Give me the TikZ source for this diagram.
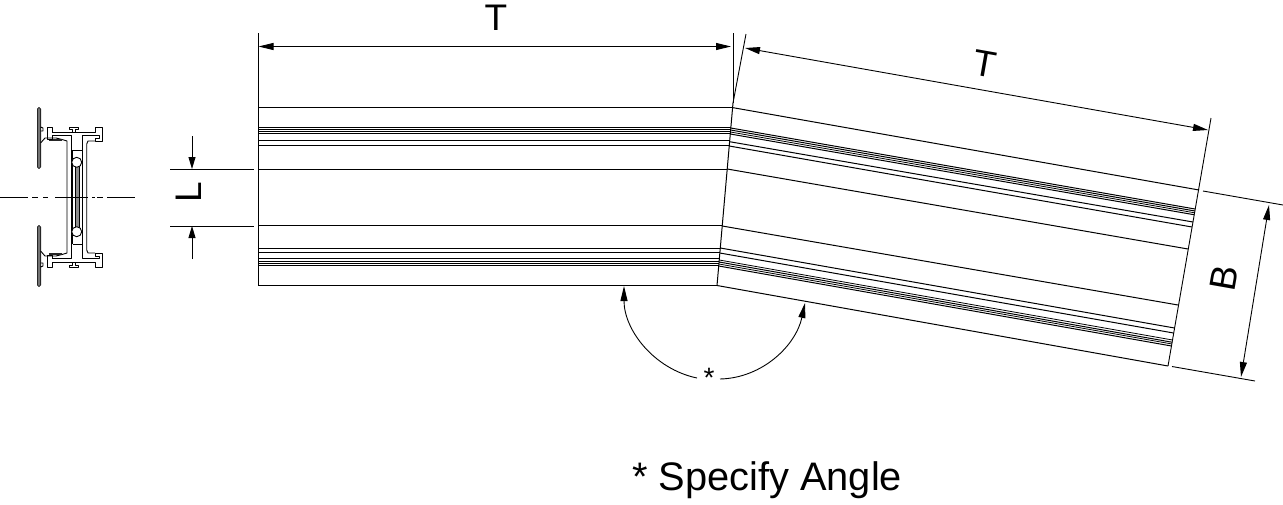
\documentclass[tikz,border=0pt]{standalone}
\usepackage{fontspec}
\setmainfont{Liberation Sans}
\usetikzlibrary{arrows.meta}
\tikzset{
  edge/.style={draw=black,line width=1pt},
  fine/.style={draw=black,line width=0.8pt},
  dim/.style={draw=black,line width=0.9pt},
  tip/.style={-{Triangle[length=15pt,width=7pt]}},
  tips/.style={{Triangle[length=15pt,width=7pt]}-{Triangle[length=15pt,width=7pt]}},
  label/.style={inner sep=0pt,font=\fontsize{37}{37}\selectfont},
  note/.style={inner sep=0pt,font=\fontsize{39.8}{40}\selectfont},
  plate/.style={draw=black!85,fill=black!55,line width=0.8pt,rounded corners=1.5pt},
  profile/.style={draw=black,line width=0.9pt,line join=round},
  heavy/.style={draw=black!85,line width=2pt},
}
\newcommand{\halfprofile}{%
  \draw[plate] (37.4,107.5) rectangle (40.6,168.5);
  \draw[profile] (40.6,127) -- (43,128) -- (43,131) -- (40.6,131);
  \draw[profile] (40.6,143) -- (45,138) -- (56,138) -- (62,139.5);
  \draw[heavy] (49,140.3) -- (62,140.3);
  \draw[profile] (52,132) -- (52,127) -- (47.5,127) -- (47.5,139) -- (52,139) -- (52,135.5);
  \draw[profile] (52,132) -- (95,132) -- (95,127) -- (102,127) -- (102,141) -- (95,141) -- (95,138) -- (99,138) -- (99,135.5) -- (82.3,135.5) -- (82.3,197);
  \draw[profile] (52,135.5) -- (71,135.5) -- (71,197);
  \draw[profile] (72,132) -- (72,129) -- (69,129) -- (69,127) -- (78,127) -- (78,129) -- (75.5,129) -- (75.5,132);
  \draw[profile] (62,139.5) -- (67,141) -- (67,197);
  \draw[profile] (95,141) -- (88,141) -- (86.7,144) -- (86.7,197);
  \draw[profile] (72.5,150) -- (82.3,150);
  \draw[profile] (72.5,150) -- (72.5,197);
  \draw[profile,fill=black!45] (75,165) -- (75,197) -- (79,197) -- (79,165);
  \draw[profile,fill=white] (76.7,162.3) circle (5);
}
\begin{document}
\begin{tikzpicture}[x=1pt,y=-1pt]
\useasboundingbox (0,0) rectangle (1283,504);

% straight section and bent section: one line for each profile edge
\coordinate (jt) at (733,103);
\coordinate (jb) at (717,285.5);
\foreach \n/\yl/\wt/\ya/\xe/\ye in {
  a/107.4/edge/107.6/1199/190,
  b/127.3/edge/128/1195/209,
  c/129.3/edge/130/1195/211,
  d/131.3/fine/132/1194/212.7,
  e/133.3/edge/134/1194/214.7,
  f/140.7/edge/141.7/1193/222,
  g/145/edge/146/1192/227,
  h/169/edge/169/1188/249,
  i/225.7/edge/226/1178/305,
  j/248.3/edge/248/1174.5/328,
  k/252.7/edge/253/1173.5/333,
  l/258.5/fine/260/1172.5/340,
  m/261/edge/262/1172/342.2,
  n/263.3/fine/264/1172/344,
  o/265.5/edge/266/1171.5/346,
  p/285.4/edge/285.5/1168/366}{
  \coordinate (ls\n) at (258,\yl);
  \coordinate (le\n) at ({733-0.0874*(\yl-103)},\yl);
  \coordinate (rs\n) at ({733-0.0874*(\ya-103)},\ya);
  \coordinate (re\n) at (\xe,\ye);
  \draw[\wt] (ls\n) -- (le\n);
  \draw[\wt] (rs\n) -- (re\n);
}
\draw[edge] (jt) -- (jb);

% extension lines
\coordinate (lxt) at (258,33);
\coordinate (lxb) at (258,285.5);
\coordinate (mxt) at (733,33);
\coordinate (mxr) at (746,34);
\coordinate (rxt) at (1211,118);
\coordinate (rxb) at (1168,366);
\coordinate (bxa) at (1203,191);
\coordinate (bxb) at (1283,205);
\coordinate (bxc) at (1172,366.5);
\coordinate (bxd) at (1255,381);
\draw[dim] (lxt) -- (lxb);
\draw[dim] (mxt) -- (jt);
\draw[dim] (mxr) -- (jt);
\draw[dim] (rxt) -- (rxb);
\draw[dim] (bxa) -- (bxb);
\draw[dim] (bxc) -- (bxd);

% dimension T, T, B
\coordinate (tla) at (258.5,46.5);
\coordinate (tlb) at (731,46.5);
\coordinate (tra) at (745,48);
\coordinate (trb) at (1208,130);
\coordinate (ba) at (1269,205);
\coordinate (bb) at (1241,377);
\draw[dim,tips] (tla) -- (tlb);
\draw[dim,tips] (tra) -- (trb);
\draw[dim,tips] (ba) -- (bb);
\node[label] (tleft) at (496,18) {T};
\node[label,rotate=-10] (tright) at (985,64) {T};
\node[label,rotate=80] (bval) at (1224,278) {B};

% dimension L
\coordinate (la) at (170,169);
\coordinate (lb) at (254,169);
\coordinate (lc) at (170,226);
\coordinate (ld) at (254,226);
\coordinate (lae) at (192,136);
\coordinate (lat) at (192,169);
\coordinate (lbe) at (192,259);
\coordinate (lbt) at (192,226);
\draw[dim] (la) -- (lb);
\draw[dim] (lc) -- (ld);
\draw[dim,-{Triangle[length=12pt,width=7pt]}] (lae) -- (lat);
\draw[dim,-{Triangle[length=12pt,width=7pt]}] (lbe) -- (lbt);
\node[label,rotate=90] (lval) at (189,192) {L};

% angle
\node[inner sep=0pt,font=\fontsize{28}{28}\selectfont] (star) at (709,378) {*};
\coordinate (ala) at (697,378);
\coordinate (alt) at (624,286);
\coordinate (ara) at (720,379);
\coordinate (art) at (805,303);
\draw[dim,tip] (ala) .. controls (654,369) and (624,330) .. (alt);
\draw[dim,tip] (ara) .. controls (763,378) and (796,345) .. (art);

\node[note,anchor=base west] (specify) at (632,490) {* Specify Angle};

% end view
\foreach \a/\b [count=\i] in {0/28,32/38,43/48,55/88,92/95,97/103,107/135}{
  \coordinate (ca\i) at (\a,197);
  \coordinate (cb\i) at (\b,197);
  \draw[dim] (ca\i) -- (cb\i);
}
\halfprofile
\begin{scope}[shift={(0,394)},yscale=-1]
  \halfprofile
\end{scope}
\end{tikzpicture}
\end{document}
